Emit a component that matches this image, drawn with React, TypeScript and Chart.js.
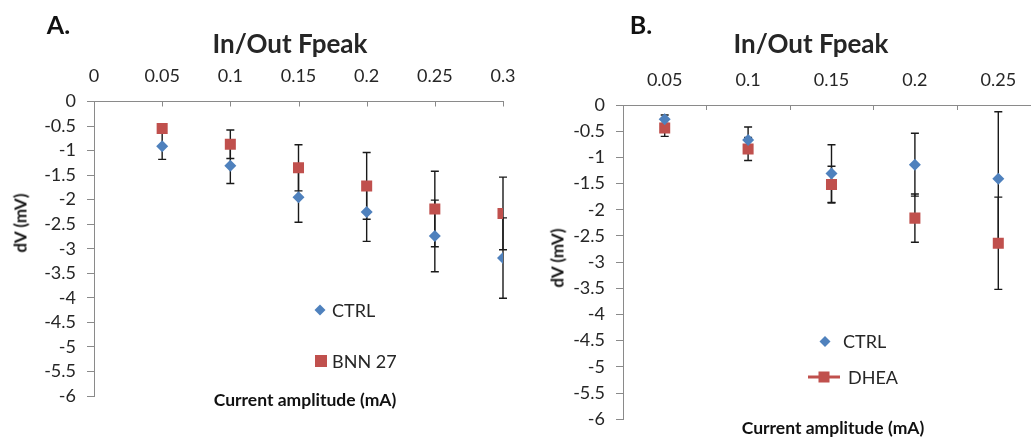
import React, { useEffect, useRef } from "react";
import { Chart, registerables } from "chart.js";

Chart.register(...registerables);

// ---------- Panel A data ----------
const currentA = [0.05, 0.1, 0.15, 0.2, 0.25, 0.3];
const ctrlA = [-0.91, -1.31, -1.95, -2.25, -2.74, -3.19];
const ctrlAErr = [0.27, 0.36, 0.51, 0.6, 0.73, 0.82];
const bnnA = [-0.55, -0.87, -1.35, -1.72, -2.19, -2.28];
const bnnAErr = [0.08, 0.29, 0.47, 0.68, 0.77, 0.74];
const xTickLabelsA = ["0", "0.05", "0.1", "0.15", "0.2", "0.25", "0.3"];

// ---------- Panel B data ----------
const currentB = ["0.05", "0.1", "0.15", "0.2", "0.25"];
const ctrlB = [-0.27, -0.67, -1.31, -1.14, -1.41];
const ctrlBErr = [0.08, 0.25, 0.55, 0.6, 1.28];
const dheaB = [-0.44, -0.84, -1.52, -2.16, -2.64];
const dheaBErr = [0.16, 0.22, 0.35, 0.46, 0.88];

// shared y tick labels (ascending, as generated by the scale)
const yTickLabels = ["-6", "-5.5", "-5", "-4.5", "-4", "-3.5", "-3", "-2.5", "-2", "-1.5", "-1", "-0.5", "0"];

const BLUE = "#4F81BD";
const RED = "#C0504D";
const AXIS = "#8a8a8a";
const TEXT = "#262626";
const FONT = "Lato, 'Open Sans', sans-serif";
const TICK_SIZE = 18;

const errorBarPlugin = {
  id: "errorBars",
  beforeDatasetsDraw(chart: any) {
    const ctx = chart.ctx;
    const yScale = chart.scales.y;
    ctx.save();
    ctx.strokeStyle = "#1a1a1a";
    ctx.lineWidth = 1.4;
    chart.data.datasets.forEach((ds: any, di: number) => {
      const meta = chart.getDatasetMeta(di);
      const errs: number[] = ds.errors || [];
      meta.data.forEach((el: any, i: number) => {
        const raw = ds.data[i];
        const v = typeof raw === "number" ? raw : raw.y;
        const e = errs[i] || 0;
        const x = el.x;
        const yt = yScale.getPixelForValue(v + e);
        const yb = yScale.getPixelForValue(v - e);
        ctx.beginPath();
        ctx.moveTo(x, yt);
        ctx.lineTo(x, yb);
        ctx.moveTo(x - 4, yt);
        ctx.lineTo(x + 4, yt);
        ctx.moveTo(x - 4, yb);
        ctx.lineTo(x + 4, yb);
        ctx.stroke();
      });
    });
    ctx.restore();
  },
};

const innerTicksPlugin = {
  id: "innerTicks",
  afterDraw(chart: any, _args: any, opts: any) {
    const ctx = chart.ctx;
    const xs = chart.scales.x;
    const top = chart.chartArea.top;
    const pts: number[] = [];
    if (opts.mode === "linear") {
      xs.ticks.forEach((_t: any, i: number) => pts.push(xs.getPixelForTick(i)));
    } else {
      const n = chart.data.labels.length;
      for (let i = 0; i <= n; i++) pts.push(xs.getPixelForValue(i - 0.5));
    }
    ctx.save();
    ctx.strokeStyle = AXIS;
    ctx.lineWidth = 1;
    pts.forEach((p) => {
      const x = Math.round(p) + 0.5;
      ctx.beginPath();
      ctx.moveTo(x, top);
      ctx.lineTo(x, top + 5);
      ctx.stroke();
    });
    ctx.restore();
  },
};

const legendPlugin = {
  id: "customLegend",
  afterDraw(chart: any, _args: any, opts: any) {
    const ctx = chart.ctx;
    const items = opts.items || [];
    ctx.save();
    ctx.font = `18px ${FONT}`;
    ctx.textBaseline = "middle";
    ctx.textAlign = "left";
    items.forEach((it: any) => {
      if (it.line) {
        ctx.strokeStyle = it.color;
        ctx.lineWidth = 3;
        ctx.beginPath();
        ctx.moveTo(it.line[0], it.y);
        ctx.lineTo(it.line[1], it.y);
        ctx.stroke();
      }
      ctx.fillStyle = it.color;
      if (it.shape === "diamond") {
        const r = 5.5;
        ctx.beginPath();
        ctx.moveTo(it.mx, it.y - r);
        ctx.lineTo(it.mx + r, it.y);
        ctx.lineTo(it.mx, it.y + r);
        ctx.lineTo(it.mx - r, it.y);
        ctx.closePath();
        ctx.fill();
      } else {
        const s = it.size || 11;
        ctx.fillRect(it.mx - s / 2, it.y - s / 2, s, s);
      }
      ctx.fillStyle = TEXT;
      ctx.fillText(it.text, it.tx, it.y + 1);
    });
    ctx.restore();
  },
};

function yAxis(width: number) {
  return {
    min: -6,
    max: 0,
    ticks: {
      stepSize: 0.5,
      autoSkip: false,
      padding: 11,
      color: TEXT,
      font: { family: FONT, size: TICK_SIZE },
      callback: (_v: any, i: number) => yTickLabels[i],
    },
    grid: { display: true, drawOnChartArea: false, drawTicks: true, tickLength: 7, color: AXIS },
    border: { display: true, color: AXIS },
    afterFit: (s: any) => {
      s.width = width;
    },
  };
}

function Label(props: { x: number; y: number; text: string; size: number; bold?: boolean; rotate?: boolean; color?: string }) {
  const { x, y, text, size, bold, rotate, color } = props;
  return (
    <div
      style={{
        position: "absolute",
        left: x,
        top: y,
        transform: `translate(-50%, -50%)${rotate ? " rotate(-90deg)" : ""}`,
        fontFamily: FONT,
        fontSize: size,
        fontWeight: bold ? 700 : 400,
        lineHeight: 1,
        whiteSpace: "nowrap",
        color: color || TEXT,
      }}
    >
      {text}
    </div>
  );
}

export default function App() {
  const refA = useRef<HTMLCanvasElement>(null);
  const refB = useRef<HTMLCanvasElement>(null);

  useEffect(() => {
    const chartA = new Chart(refA.current as HTMLCanvasElement, {
      type: "scatter",
      data: {
        datasets: [
          {
            label: "CTRL",
            data: currentA.map((x, i) => ({ x, y: ctrlA[i] })),
            errors: ctrlAErr,
            pointStyle: "rectRot",
            pointRadius: 6,
            pointBorderWidth: 0,
            backgroundColor: BLUE,
            borderColor: BLUE,
          } as any,
          {
            label: "BNN 27",
            data: currentA.map((x, i) => ({ x, y: bnnA[i] })),
            errors: bnnAErr,
            pointStyle: "rect",
            pointRadius: 7.8,
            pointBorderWidth: 0,
            backgroundColor: RED,
            borderColor: RED,
          } as any,
        ],
      },
      options: {
        animation: false,
        responsive: false,
        events: [],
        layout: { padding: { left: 0, right: 37, top: 0, bottom: 45 } },
        plugins: {
          legend: { display: false },
          tooltip: { enabled: false },
          innerTicks: { mode: "linear" },
          customLegend: {
            items: [
              { shape: "diamond", color: BLUE, mx: 320, y: 310, tx: 332, text: "CTRL" },
              { shape: "square", color: RED, mx: 321, y: 361, tx: 332, text: "BNN 27", size: 12 },
            ],
          },
        } as any,
        scales: {
          x: {
            type: "linear",
            position: "top",
            min: 0,
            max: 0.3,
            ticks: {
              stepSize: 0.05,
              autoSkip: false,
              padding: 7,
              color: TEXT,
              font: { family: FONT, size: TICK_SIZE },
              callback: (_v: any, i: number) => xTickLabelsA[i],
            },
            grid: { display: false },
            border: { display: true, color: AXIS },
            afterFit: (s: any) => {
              s.height = 101.5;
            },
          },
          y: yAxis(94) as any,
        },
      } as any,
      plugins: [errorBarPlugin, innerTicksPlugin, legendPlugin],
    });

    const chartB = new Chart(refB.current as HTMLCanvasElement, {
      type: "line",
      data: {
        labels: currentB,
        datasets: [
          {
            label: "CTRL",
            data: ctrlB,
            errors: ctrlBErr,
            showLine: false,
            pointStyle: "rectRot",
            pointRadius: 6,
            pointBorderWidth: 0,
            backgroundColor: BLUE,
            borderColor: BLUE,
          } as any,
          {
            label: "DHEA",
            data: dheaB,
            errors: dheaBErr,
            showLine: false,
            pointStyle: "rect",
            pointRadius: 7.8,
            pointBorderWidth: 0,
            backgroundColor: RED,
            borderColor: RED,
          } as any,
        ],
      },
      options: {
        animation: false,
        responsive: false,
        events: [],
        layout: { padding: { left: 0, right: 10, top: 0, bottom: 21 } },
        plugins: {
          legend: { display: false },
          tooltip: { enabled: false },
          innerTicks: { mode: "category" },
          customLegend: {
            items: [
              { shape: "diamond", color: BLUE, mx: 285, y: 341.5, tx: 303, text: "CTRL" },
              { shape: "square", color: RED, mx: 284, y: 377, tx: 308, text: "DHEA", size: 11, line: [268, 300] },
            ],
          },
        } as any,
        scales: {
          x: {
            type: "category",
            position: "top",
            offset: true,
            ticks: {
              autoSkip: false,
              padding: 6.5,
              color: TEXT,
              font: { family: FONT, size: TICK_SIZE },
            },
            grid: { display: false, offset: true },
            border: { display: true, color: AXIS },
            afterFit: (s: any) => {
              s.height = 105;
            },
          },
          y: yAxis(83) as any,
        },
      } as any,
      plugins: [errorBarPlugin, innerTicksPlugin, legendPlugin],
    });

    return () => {
      chartA.destroy();
      chartB.destroy();
    };
  }, []);

  return (
    <div
      style={{
        position: "fixed",
        left: 0,
        top: 0,
        width: 1031,
        height: 441,
        overflow: "hidden",
        background: "#ffffff",
      }}
    >
      <div style={{ position: "absolute", left: 0, top: 0, width: 540, height: 441 }}>
        <canvas ref={refA} width={540} height={441} style={{ display: "block" }} />
      </div>
      <div style={{ position: "absolute", left: 540, top: 0, width: 510, height: 441 }}>
        <canvas ref={refB} width={510} height={441} style={{ display: "block" }} />
      </div>

      <Label x={58.5} y={24} text="A." size={25} bold color="#111" />
      <Label x={641} y={24} text="B." size={25} bold color="#111" />
      <Label x={290} y={43} text="In/Out Fpeak" size={26} bold />
      <Label x={811} y={43} text="In/Out Fpeak" size={26} bold />
      <Label x={305} y={400} text="Current amplitude (mA)" size={17.5} bold color="#111" />
      <Label x={833} y={428} text="Current amplitude (mA)" size={17.5} bold color="#111" />
      <Label x={20} y={222.5} text="dV (mV)" size={17} bold rotate color="#111" />
      <Label x={557} y={257.5} text="dV (mV)" size={17} bold rotate color="#111" />
    </div>
  );
}
